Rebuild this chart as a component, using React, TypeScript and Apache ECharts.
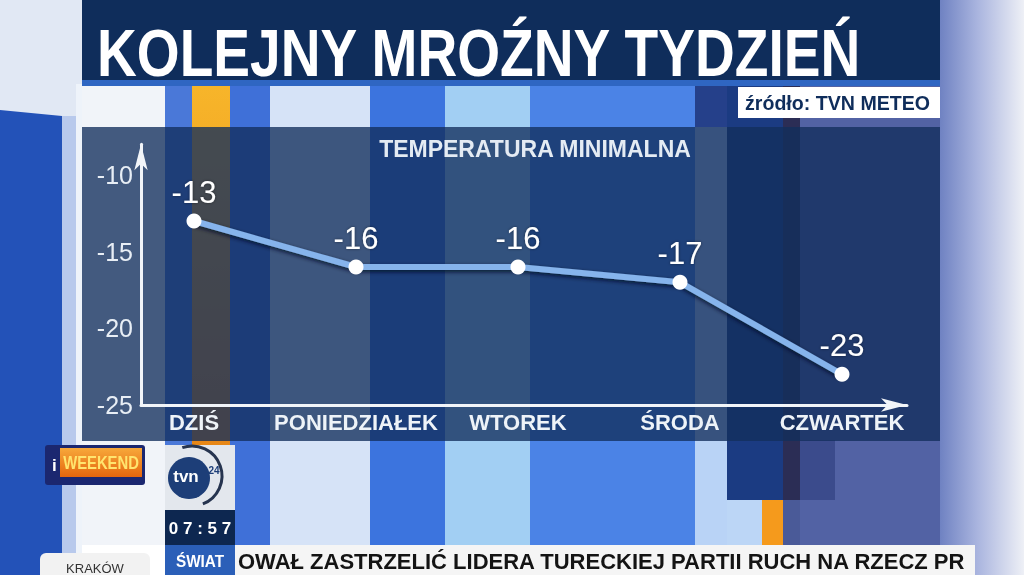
import React, { useEffect, useRef } from "react";
import * as echarts from "echarts";

const categories = ["DZIŚ", "PONIEDZIAŁEK", "WTOREK", "ŚRODA", "CZWARTEK"];
const minTemps = [-13, -16, -16, -17, -23];
const yMin = -25;
const yMax = -8;
const yStep = 5;

const titleText = "KOLEJNY MROŹNY TYDZIEŃ";
const subtitleText = "TEMPERATURA MINIMALNA";
const sourceText = "źródło: TVN METEO";
const tickerText = "OWAŁ ZASTRZELIĆ LIDERA TURECKIEJ PARTII RUCH NA RZECZ PRAWA";

const NARROW = "'Liberation Sans Narrow', 'Liberation Sans', Arial, sans-serif";
const SANS = "'Liberation Sans', Arial, sans-serif";

function txt(x: number, y: number, text: string, o: any = {}) {
  const align = o.align || "left";
  return {
    type: "text",
    x,
    y,
    scaleX: o.scaleX || 1,
    z: o.z ?? 5,
    style: {
      text,
      fill: o.fill || "#ffffff",
      font: o.font,
      align,
      textAlign: align,
      verticalAlign: "middle",
      textVerticalAlign: "middle",
      width: o.width,
      overflow: o.overflow,
      ellipsis: o.overflow ? "" : undefined,
    },
  };
}

function rect(x: number, y: number, w: number, h: number, fill: any, z = -5, r: any = 0) {
  return { type: "rect", z, shape: { x, y, width: w, height: h, r }, style: { fill } };
}

export default function App() {
  const ref = useRef<HTMLDivElement>(null);
  useEffect(() => {
    if (!ref.current) return;
    const chart = echarts.init(ref.current, null, { renderer: "svg" });

    const vGrad = (a: string, b: string) =>
      new echarts.graphic.LinearGradient(0, 0, 0, 1, [
        { offset: 0, color: a },
        { offset: 1, color: b },
      ]);

    const bg: any[] = [
      {
        type: "rect",
        z: -10,
        shape: { x: 940, y: 0, width: 84, height: 575 },
        style: {
          fill: new echarts.graphic.LinearGradient(0, 0, 1, 0, [
            { offset: 0, color: "#6f82c2" },
            { offset: 0.45, color: "#aab5df" },
            { offset: 1, color: "#eef0f6" },
          ]),
        },
      },
      rect(0, 0, 82, 118, "#e1e8f4", -10),
      {
        type: "polygon",
        z: -9,
        shape: { points: [[0, 110], [62, 116], [62, 575], [0, 575]] },
        style: { fill: "#2352b8" },
      },
      rect(62, 116, 14, 459, "#b8c9ec", -9),
      rect(76, 84, 6, 491, "#eef3fa", -9),
      rect(82, 86, 83, 459, "#f1f4f9"),
      rect(165, 86, 27, 459, "#4a78d8"),
      rect(192, 86, 38, 459, vGrad("#f7b52a", "#e27a12")),
      rect(230, 86, 40, 459, "#3f70d8"),
      rect(270, 86, 100, 459, "#d6e3f7"),
      rect(370, 86, 75, 459, "#3c74de"),
      rect(445, 86, 85, 459, "#a2cff3"),
      rect(530, 86, 165, 459, "#4b83e6"),
      rect(695, 86, 32, 459, "#b9d3f6"),
      rect(695, 86, 43, 41, "#25408a"),
      rect(727, 86, 56, 414, "#1b3b82"),
      rect(783, 86, 17, 414, "#2b2d55"),
      rect(800, 86, 140, 459, "#5262a4"),
      rect(800, 440, 35, 60, "#3b4b8c"),
      rect(727, 500, 35, 45, "#bcd6f6"),
      rect(762, 500, 21, 45, "#f59a1c"),
      rect(783, 500, 17, 45, "#4a5a98"),
      rect(82, 0, 858, 80, "#0f2d5b", -4),
      rect(82, 80, 858, 6, "#2f66c2", -4),
      rect(82, 127, 858, 314, "rgba(18,46,92,0.78)", -3),
      rect(738, 87, 202, 31, "#ffffff", -3),
      rect(45, 445, 100, 40, "#1b2770", -3, 3),
      rect(60, 448, 82, 29, vGrad("#f7a83a", "#e4660e"), -2),
      rect(165, 445, 70, 65, "#e3e7ed", -3),
      { type: "circle", z: -2, shape: { cx: 189, cy: 478, r: 21 }, style: { fill: "#1d3e78" } },
      {
        type: "arc",
        z: -2,
        shape: { cx: 192, cy: 476, r: 30, startAngle: -1.9, endAngle: 1.2 },
        style: { stroke: "#26344f", lineWidth: 3, fill: "none" },
      },
      rect(165, 510, 70, 35, "#0d2750", -3),
      rect(165, 545, 70, 30, "#2b5fb8", -3),
      rect(235, 545, 740, 30, "#f5f5f5", -3),
      rect(40, 553, 110, 22, "#f2f2f2", -3, [6, 6, 0, 0]),
    ];

    const fg: any[] = [
      txt(97, 53, titleText, { font: `bold 66px ${SANS}`, scaleX: 0.835, z: 10 }),
      txt(745, 103, sourceText, { font: `bold 20px ${SANS}`, fill: "#0f2d5b", scaleX: 0.98, z: 10 }),
      txt(101, 463, "WEEKEND", { font: `bold 19px ${SANS}`, fill: "#ffe46e", align: "center", scaleX: 0.78, z: 10 }),
      txt(52, 465, "i", { font: `bold 17px ${SANS}`, fill: "#ffffff", z: 10 }),
      txt(186, 476, "tvn", { font: `bold 17px ${SANS}`, fill: "#ffffff", align: "center", z: 10 }),
      txt(214, 470, "24", { font: `bold 10px ${SANS}`, fill: "#1d3e78", align: "center", z: 10 }),
      txt(200, 528, "0 7 : 5 7", { font: `bold 17px ${SANS}`, fill: "#ffffff", align: "center", z: 10 }),
      txt(200, 561, "ŚWIAT", { font: `bold 17px ${SANS}`, fill: "#ffffff", align: "center", scaleX: 0.9, z: 10 }),
      txt(238, 561, tickerText, {
        font: `bold 22px ${SANS}`,
        fill: "#141414",
        width: 737,
        overflow: "truncate",
        z: 10,
      }),
      txt(95, 568, "KRAKÓW", { font: `13px ${SANS}`, fill: "#333333", align: "center", z: 10 }),
    ];

    const gridTop = 405 - (yMax - yMin) * (230 / 15);
    const gridBottom = 575 - 405;

    chart.setOption({
      animation: false,
      title: {
        text: subtitleText,
        left: 530,
        top: 132,
        textAlign: "center",
        textStyle: { color: "#e4ebf3", fontSize: 23, fontWeight: "bold", fontFamily: SANS },
      },
      graphic: { elements: [...bg, ...fg] },
      grid: [
        { left: 194, right: 1024 - 842, top: gridTop, bottom: gridBottom },
        { left: 141, right: 1024 - 907, top: gridTop, bottom: gridBottom },
      ],
      xAxis: [
        {
          gridIndex: 0,
          type: "category",
          data: categories,
          boundaryGap: false,
          axisLine: { show: false },
          axisTick: { show: false },
          splitLine: { show: false },
          axisLabel: {
            color: "#eef3f8",
            fontSize: 22,
            fontWeight: "bold",
            fontFamily: SANS,
            margin: 6,
            interval: 0,
          },
        },
        {
          gridIndex: 1,
          type: "value",
          min: 0,
          max: 1,
          axisLine: {
            show: true,
            symbol: ["none", "arrow"],
            symbolSize: [10, 26],
            lineStyle: { color: "#f2f5f9", width: 3 },
          },
          axisTick: { show: false },
          axisLabel: { show: false },
          splitLine: { show: false },
        },
      ],
      yAxis: [
        {
          gridIndex: 0,
          type: "value",
          min: yMin,
          max: yMax,
          interval: yStep,
          show: false,
        },
        {
          gridIndex: 1,
          type: "value",
          min: yMin,
          max: yMax,
          interval: yStep,
          axisLine: {
            show: true,
            symbol: ["none", "arrow"],
            symbolSize: [10, 26],
            lineStyle: { color: "#f2f5f9", width: 3 },
          },
          axisTick: { show: false },
          splitLine: { show: false },
          axisLabel: {
            color: "#e8eef5",
            fontSize: 25,
            fontFamily: NARROW,
            margin: 8,
            formatter: (v: number) => (v % yStep === 0 ? String(v) : ""),
          },
        },
      ],
      series: [
        {
          type: "line",
          xAxisIndex: 0,
          yAxisIndex: 0,
          data: minTemps,
          symbol: "circle",
          symbolSize: 15,
          z: 5,
          lineStyle: {
            color: "#86b4ec",
            width: 6,
            shadowColor: "rgba(0,12,40,0.85)",
            shadowBlur: 4,
            shadowOffsetY: 2,
          },
          itemStyle: { color: "#ffffff", borderWidth: 0 },
          label: {
            show: true,
            position: "top",
            distance: 6,
            color: "#ffffff",
            fontSize: 31,
            fontFamily: NARROW,
            formatter: (p: any) => String(p.value),
            textShadowColor: "rgba(0,0,0,0.45)",
            textShadowBlur: 3,
          },
        },
      ],
    });
    return () => chart.dispose();
  }, []);

  return (
    <div
      ref={ref}
      style={{ position: "fixed", left: 0, top: 0, width: 1024, height: 575 }}
    />
  );
}
